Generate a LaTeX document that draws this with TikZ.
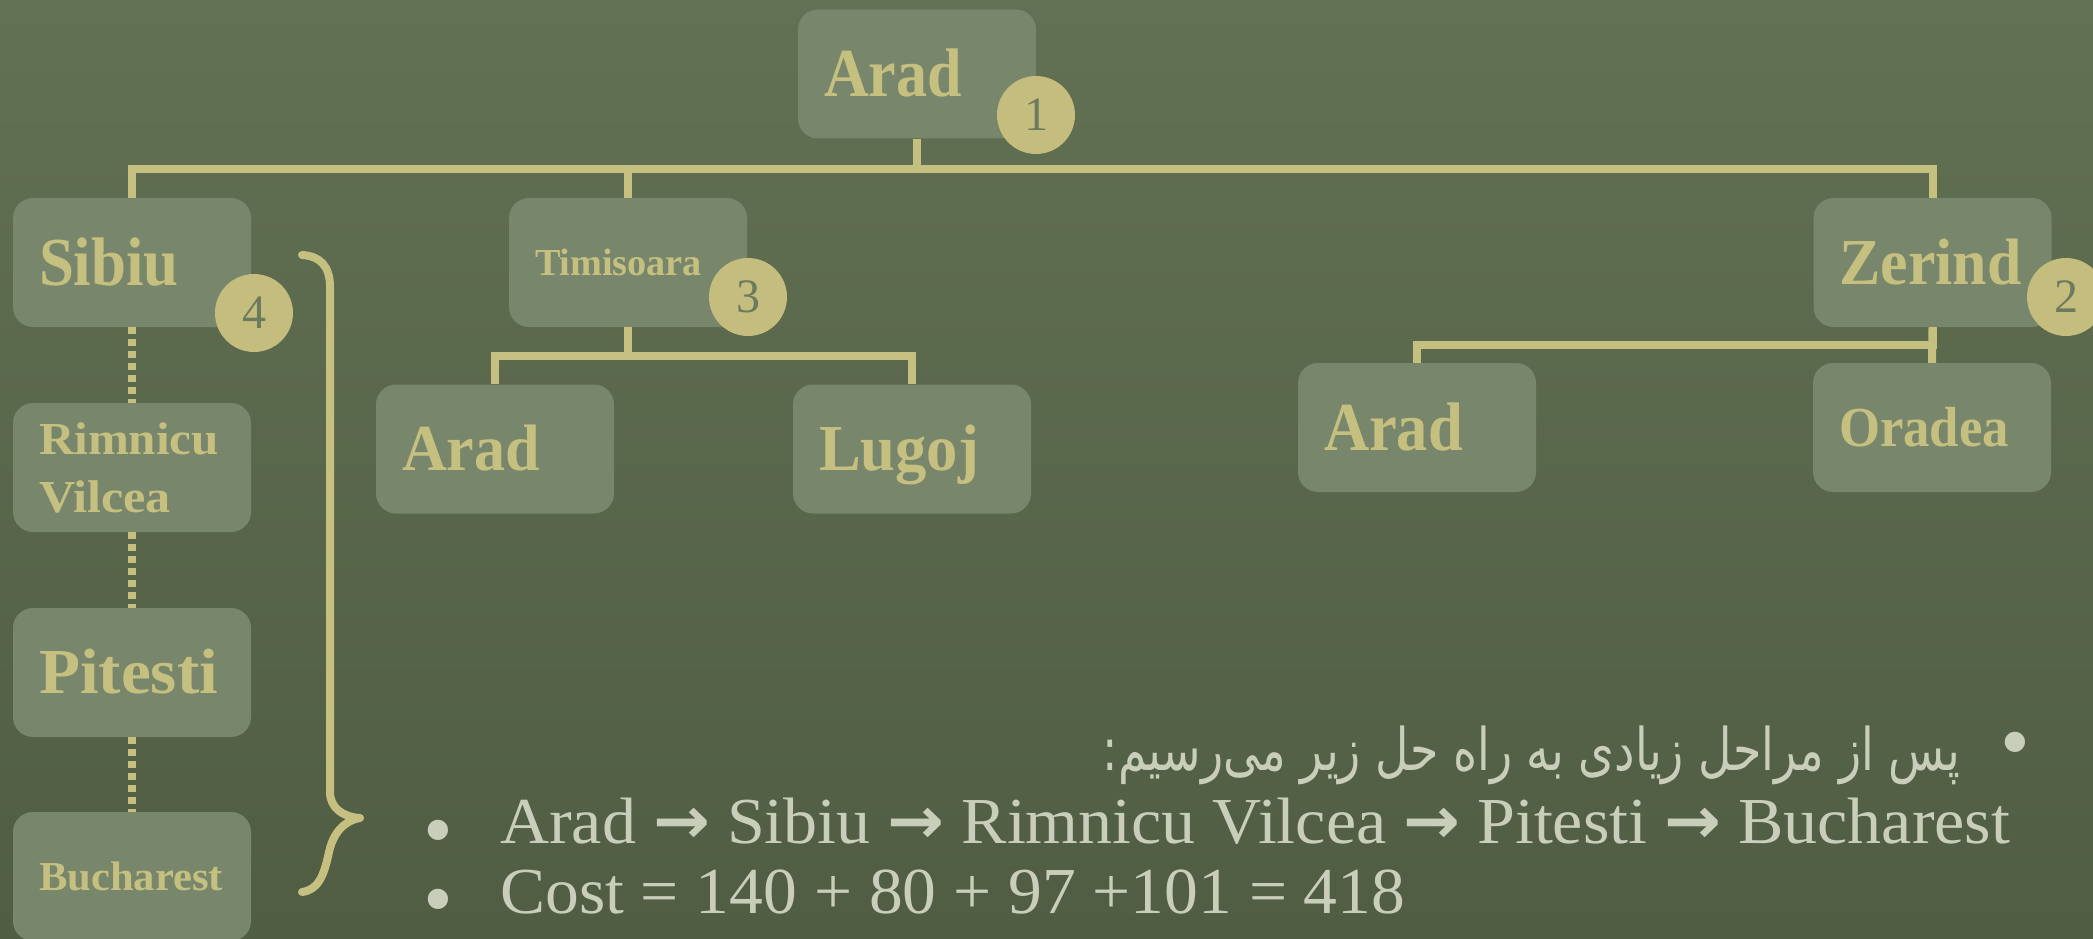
\documentclass[tikz,border=0pt]{standalone}
\usepackage{fontspec}
\usepackage{graphicx}
\setmainfont{Liberation Serif}
\newfontfamily\arabicfont[Script=Arabic]{DejaVu Sans}
\newfontfamily\arrowfont{DejaVu Sans}
\TeXXeTstate=1

\definecolor{bgtop}{RGB}{98,112,83}
\definecolor{bgbot}{RGB}{80,93,67}
\definecolor{boxfill}{RGB}{120,135,108}
\definecolor{gold}{RGB}{198,192,128}
\definecolor{badge}{RGB}{196,189,126}
\definecolor{badgetext}{RGB}{108,123,94}
\definecolor{notecol}{RGB}{200,206,186}

% city name: font size, printed width, text (left aligned in the box)
\newcommand\cname[3]{\fontsize{#1pt}{#1pt}\selectfont\makebox[186pt][l]{\resizebox{#2pt}{\height}{#3}}}
\newcommand\rarrow{{\arrowfont\bfseries →}}

\tikzset{
  city/.style={rectangle, rounded corners=20pt, fill=boxfill, minimum width=238pt,
    minimum height=129pt, inner xsep=26pt, inner ysep=0pt, text=gold, font=\bfseries},
  capht/.style={text height=#1, text depth=0pt},
  badgenode/.style={circle, fill=badge, minimum size=78pt, inner sep=0pt,
    text=badgetext, font=\fontsize{48pt}{48pt}\selectfont},
  conn/.style={draw=gold, line width=8pt},
  dotconn/.style={conn, dash pattern=on 7pt off 5pt},
  note/.style={text=notecol, inner sep=0pt, text depth=0pt},
  bulletnode/.style={text=notecol, inner sep=0pt, anchor=base, text height=0pt,
    text depth=0pt, font=\fontsize{85pt}{85pt}\selectfont},
}

\begin{document}
\begin{tikzpicture}[x=1pt, y=-1pt]
\useasboundingbox (0,0) rectangle (2093,939);
\clip (0,0) rectangle (2093,939);
\shade[top color=bgtop, bottom color=bgbot] (0,0) rectangle (2093,939);

% search tree boxes
\node[city, capht=45pt] (root) at (917,74) {\cname{68.7}{138}{Arad}};
\node[city, capht=45pt] (sibiu) at (132,262.5) {\cname{68.7}{140}{Sibiu}};
\node[city, capht=25pt] (timi) at (628,262.5) {\cname{38.2}{167}{Timisoara}};
\node[city, capht=43pt] (zerind) at (1932.5,262.5) {\cname{65.6}{182}{Zerind}};
\node[city, capht=43pt] (aradt) at (495,449) {\cname{65.6}{138}{Arad}};
\node[city, capht=43pt] (lugoj) at (912,449) {\cname{65.6}{160}{Lugoj}};
\node[city, capht=45pt] (aradz) at (1417,427.5) {\cname{68.7}{139}{Arad}};
\node[city, capht=37pt] (oradea) at (1932,427.5) {\cname{56.5}{170}{Oradea}};
\node[city, text width=186pt, align=left, font=\bfseries\fontsize{45.8pt}{58pt}\selectfont]
  (rimnicu) at (132,467.5)
  {\resizebox{180pt}{\height}{Rimnicu}\\\resizebox{132pt}{\height}{Vilcea}};
\node[city, capht=42pt] (pitesti) at (132,672.5) {\cname{64.1}{179}{Pitesti}};
\node[city, capht=27pt] (buch) at (132,876.5) {\cname{41.2}{184}{Bucharest}};

% tree connectors
\draw[conn] (root.south) -- ++(0,30) -| (sibiu.north);
\draw[conn] (root.south) -- ++(0,30) -| (timi.north);
\draw[conn] (root.south) -- ++(0,30) -| (zerind.north);
\draw[conn] (timi.south) -- ++(0,29) -| (aradt.north);
\draw[conn] (timi.south) -- ++(0,29) -| (lugoj.north);
\draw[conn] (zerind.south) -- ++(0,18) -| (aradz.north);
\draw[conn] (zerind.south) -- (oradea.north);

% solution path
\draw[dotconn] (sibiu.south) -- (rimnicu.north);
\draw[dotconn] (rimnicu.south) -- (pitesti.north);
\draw[dotconn] (pitesti.south) -- (buch.north);

% expansion order badges
\node[badgenode] (b1) at (1036,115) {1};
\node[badgenode] (b2) at (2066,297) {2};
\node[badgenode] (b3) at (748,297) {3};
\node[badgenode] (b4) at (254,313) {4};

% brace around the solution path
\draw[draw=gold, line width=8pt, line cap=round, line join=round]
  (302,255) .. controls (320,256) and (330,266) .. (330,287) -- (330,792)
  .. controls (330,808) and (343,817) .. (360,818)
  .. controls (343,821) and (333,834) .. (329,852)
  .. controls (324,876) and (318,890) .. (302,892);

% notes
\node[bulletnode] (bul1) at (2015,770) {•};
\node[note, anchor=base east] (fa) at (1960,770)
  {\resizebox{857pt}{1.2\height}{\fontsize{49pt}{49pt}\arabicfont\beginR پس از مراحل زیادی به راه حل زیر می‌رسیم:\endR}};
\node[bulletnode] (bul2) at (438,858) {•};
\node[note, anchor=base west, text height=46pt] (path) at (500,843)
  {\fontsize{65.6pt}{65.6pt}\selectfont\resizebox{1510pt}{\height}{Arad \rarrow{} Sibiu \rarrow{} Rimnicu Vilcea \rarrow{} Pitesti \rarrow{} Bucharest}};
\node[bulletnode] (bul3) at (438,927) {•};
\node[note, anchor=base west, text height=46pt] (cost) at (500,913)
  {\fontsize{65.6pt}{65.6pt}\selectfont\resizebox{905pt}{\height}{Cost = 140 + 80 + 97 +101 = 418}};
\end{tikzpicture}
\end{document}
